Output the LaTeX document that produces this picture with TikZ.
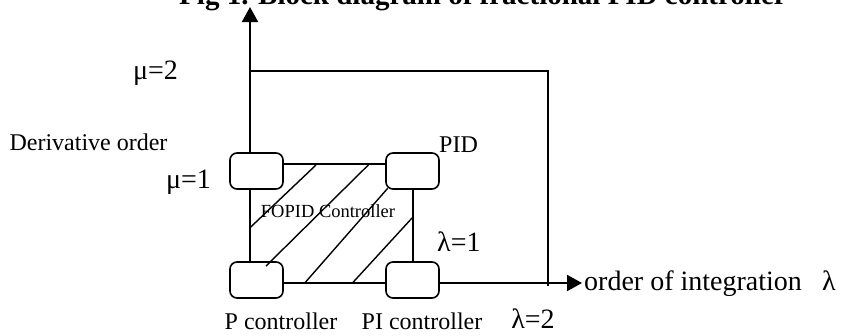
\documentclass[tikz,border=0pt]{standalone}
\usepackage{fontspec}
\setmainfont{Liberation Serif}
\usetikzlibrary{arrows.meta}
\begin{document}
\begin{tikzpicture}[x=1pt,y=1pt,
  ctrlbox/.style={draw,line width=1.6pt,rounded corners=7pt,minimum width=53pt,minimum height=36pt,inner sep=0pt,fill=white},
  axisline/.style={line width=2pt,-{Triangle[length=15pt,width=16pt]}},
  thinline/.style={line width=1.4pt},
  lbl/.style={inner sep=0pt,font=\fontsize{24}{28}\selectfont},
  biglbl/.style={inner sep=0pt,font=\fontsize{28}{32}\selectfont}]
\useasboundingbox (0,0) rectangle (842,-335);
% title (cut at top)
\node[anchor=base,inner sep=0pt,font=\fontsize{29}{33}\bfseries] (title) at (483,-4.5) {Fig 1. Block diagram of fractional PID controller};
% key coordinates
\coordinate (O) at (250,-283);
\coordinate (ytip) at (250,-7);
\coordinate (xtip) at (582,-283);
\coordinate (topy) at (0,-164);
\coordinate (rightx) at (413,0);
\coordinate (m2l) at (250,-71);
\coordinate (m2r) at (548,-71);
\coordinate (m2b) at (548,-286);
% boxes
\node[ctrlbox] (TL) at (256.5,-171) {};
\node[ctrlbox] (TR) at (412.5,-171) {};
\node[ctrlbox] (BL) at (256.5,-280) {};
\node[ctrlbox] (BR) at (412.5,-280) {};
% axes
\draw[axisline] (TL.north -| O) -- (ytip);
\draw[axisline] (BR.east |- O) -- (xtip);
% mu=2 / lambda=2 boundary
\draw[thinline] (m2l) -- (m2r) -- (m2b);
% inner rectangle
\draw[thinline] (TL.south -| O) -- (BL.north -| O);
\draw[thinline] (TL.east |- topy) -- (TR.west |- topy);
\draw[thinline] (TR.south -| rightx) -- (BR.north -| rightx);
\draw[thinline] (BL.east |- O) -- (BR.west |- O);
% hatching
\draw[thinline] (250,-227.7) -- (316,-165);
\draw[thinline] (266,-266) -- (368.3,-165);
\draw[thinline] (305,-282.7) -- (387.7,-188.3);
\draw[thinline] (352.7,-282.7) -- (412.7,-217.3);
% labels
\node[inner sep=0pt,anchor=base,font=\fontsize{18.5}{21}\selectfont] (fopid) at (328,-217) {FOPID Controller};
\node[biglbl,anchor=base] (mu2) at (155.5,-79) {μ=2};
\node[lbl,anchor=base] (deriv) at (88.5,-150) {Derivative order};
\node[biglbl,anchor=base] (mu1) at (188.5,-188) {μ=1};
\node[lbl,anchor=base west] (pid) at (439,-152) {PID};
\node[biglbl,anchor=base west] (lam1) at (437,-251) {λ=1};
\node[biglbl,anchor=base west] (order) at (584,-290.5) {order of integration};
\node[biglbl,anchor=base west] (lamx) at (822,-290.5) {λ};
\node[lbl,anchor=base] (pc) at (281,-329) {P controller};
\node[lbl,anchor=base] (pic) at (422,-329) {PI controller};
\node[biglbl,anchor=base] (lam2) at (533,-328) {λ=2};
\end{tikzpicture}
\end{document}
